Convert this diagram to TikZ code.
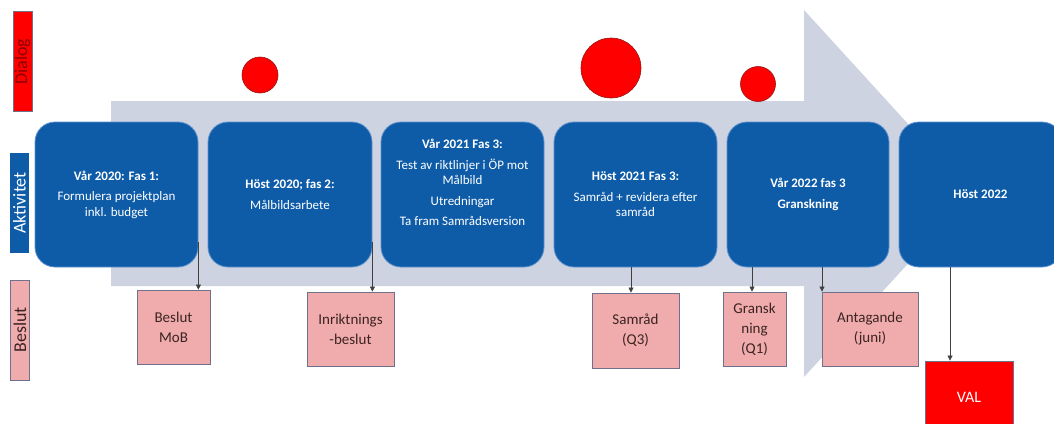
\documentclass[tikz,border=0pt]{standalone}
\usepackage{fontspec}
\usepackage{graphicx}
\setmainfont{Carlito}
\usetikzlibrary{arrows.meta}

\definecolor{arrowgrey}{RGB}{205,211,225}
\definecolor{fasblue}{RGB}{14,92,168}
\definecolor{fasedge}{RGB}{95,145,205}
\definecolor{beslutpink}{RGB}{240,172,172}
\definecolor{beslutedge}{RGB}{110,112,140}
\definecolor{dlgedge}{RGB}{150,20,20}
\definecolor{dlgtext}{RGB}{140,0,0}
\definecolor{beslutink}{RGB}{60,35,35}

\begin{document}
\begin{tikzpicture}[
		x=1pt, y=-1pt,
		every node/.style={inner sep=2pt, align=center},
		fas/.style={rectangle, rounded corners=20pt, fill=fasblue, draw=fasedge, line width=0.8pt, text=white, minimum height=145pt, font=\fontsize{13}{15.5}\selectfont},
		beslut/.style={rectangle, fill=beslutpink, draw=beslutedge, line width=0.8pt, text=beslutink, minimum height=74pt, font=\fontsize{15}{20}\selectfont},
		dlg/.style={circle, fill=red, draw=dlgedge, line width=0.6pt, inner sep=0pt},
		lbl/.style={rectangle, minimum height=100pt, minimum width=19pt, inner sep=0pt, font=\fontsize{18}{18}\selectfont},
		conn/.style={draw=black!75, line width=0.6pt, -{Triangle[length=5pt, width=5pt]}}
	]
  \useasboundingbox (0, 0) rectangle (1054, 423);
  \fill[arrowgrey] (111, 101) -- (804, 101) -- (804, 10) -- (972, 194) -- (804, 377) -- (804, 286) -- (111, 286) -- cycle;

  \node (dialog_lbl) [lbl, fill=red, draw=beslutedge, text=dlgtext] at (22.5, 61.5) {\rotatebox{90}{Dialog}};
  \node (aktivitet_lbl) [lbl, fill=fasblue, text=white] at (19.5, 203) {\rotatebox{90}{Aktivitet}};
  \node (beslut_lbl) [lbl, fill=beslutpink, draw=beslutedge, text=beslutink] at (20, 330) {\rotatebox{90}{Beslut}};

  \node (dlg_1) [dlg, minimum size=36pt] at (260, 75) {};
  \node (dlg_2) [dlg, minimum size=60pt] at (611, 68) {};
  \node (dlg_3) [dlg, minimum size=35pt] at (758, 84) {};

  \node (fas_1) [fas, minimum width=163pt] at (116.5, 194.5) {\textbf{Vår 2020: Fas 1:}\\[5pt]Formulera projektplan\\inkl. budget};
  \node (fas_2) [fas, minimum width=164pt] at (290, 194.5) {\textbf{Höst 2020; fas 2:}\\[5pt]Målbildsarbete};
  \node (fas_3) [fas, minimum width=163pt] at (462.5, 194.5) {\textbf{Vår 2021 Fas 3:}\\[5pt]Test av riktlinjer i ÖP mot\\Målbild\\[5pt]Utredningar\\[5pt]Ta fram Samrådsversion\\[8pt]\mbox{}};
  \node (fas_4) [fas, minimum width=163pt] at (635.5, 194.5) {\textbf{Höst 2021 Fas 3:}\\[5pt]Samråd + revidera efter\\samråd};
  \node (fas_5) [fas, minimum width=162pt] at (808, 194.5) {\textbf{Vår 2022 fas 3}\\[5pt]\textbf{Granskning}};
  \node (fas_6) [fas, minimum width=163pt] at (980.5, 194.5) {\textbf{Höst 2022}};

  \node (bes_mob) [beslut, minimum width=73pt] at (173.5, 327) {Beslut\\MoB};
  \node (bes_inr) [beslut, minimum width=87pt] at (350.5, 329) {Inriktnings\\-beslut};
  \node (bes_samrad) [beslut, minimum width=87pt, minimum height=75pt] at (635.5, 330.5) {Samråd\\(Q3)};
  \node (bes_gransk) [beslut, minimum width=63pt] at (754.5, 329) {Gransk\\ning\\(Q1)};
  \node (bes_antag) [beslut, minimum width=96pt] at (870, 329) {Antagande\\(juni)};
  \node (val) [beslut, fill=red, text=white, minimum width=88pt, minimum height=72pt, font=\fontsize{16}{20}\selectfont] at (969, 397) {VAL};

  \draw[conn] ([yshift=25pt]fas_1.south east) -- (fas_1.south east |- bes_mob.north);
  \draw[conn] ([yshift=25pt]fas_2.south east) -- (fas_2.south east |- bes_inr.north);
  \draw[conn] ([xshift=-4.5pt]fas_4.south) -- ([xshift=-4.5pt]fas_4.south |- bes_samrad.north);
  \draw[conn] ([xshift=-56pt]fas_5.south) -- ([xshift=-56pt]fas_5.south |- bes_gransk.north);
  \draw[conn] ([xshift=14pt]fas_5.south) -- ([xshift=14pt]fas_5.south |- bes_antag.north);
  \draw[conn] ([xshift=-30.5pt]fas_6.south) -- ([xshift=-30.5pt]fas_6.south |- val.north);
\end{tikzpicture}
\end{document}
